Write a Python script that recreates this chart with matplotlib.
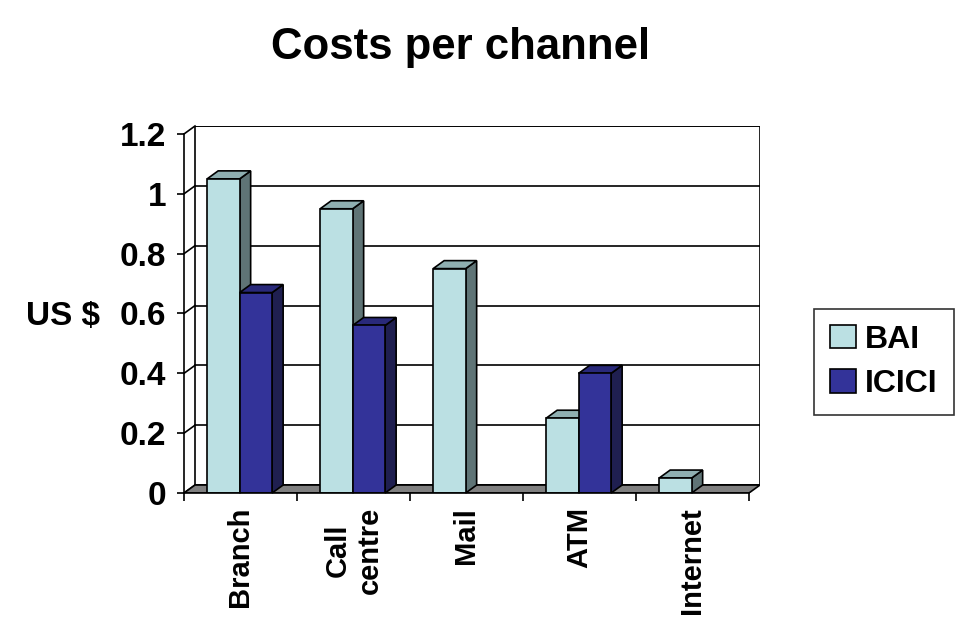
import matplotlib
matplotlib.use("Agg")
import matplotlib.pyplot as plt
from matplotlib.patches import Patch
import numpy as np

# data
categories = ['Branch', 'Call\ncentre', 'Mail', 'ATM', 'Internet']
bai = [1.05, 0.95, 0.75, 0.25, 0.05]
icici = [0.67, 0.56, 0.0, 0.40, 0.0]
series_names = ['BAI', 'ICICI']
y_ticks = [0, 0.2, 0.4, 0.6, 0.8, 1.0, 1.2]
y_tick_labels = ['0', '0.2', '0.4', '0.6', '0.8', '1', '1.2']

plt.rcParams['font.family'] = ['Liberation Sans', 'DejaVu Sans']
plt.rcParams['font.weight'] = 'bold'

# colours: front, top, side
col_bai = ('#BBE0E3', '#8FAFB1', '#5F7476')
col_icici = ('#333399', '#29297A', '#1F1F50')

fig = plt.figure(figsize=(9.59, 6.17), dpi=100)
ax = fig.add_axes([184 / 959, 124 / 617, 576 / 959, 367 / 617])

n = len(categories)
ymax = 1.2
dx = 11 / 113.0   # depth offset, category units
dy = 8 / 300.0    # depth offset, value units
ax.set_xlim(0, n + dx)
ax.set_ylim(0, ymax + dy)
ax.patch.set_visible(False)

lw = 1.2

# back wall
ax.fill([dx, n + dx, n + dx, dx], [dy, dy, ymax + dy, ymax + dy],
        facecolor='white', edgecolor='black', lw=lw, zorder=0.5)
# gridlines on back wall and side wall
for t in y_ticks:
    ax.plot([dx, n + dx], [t + dy, t + dy], color='black', lw=lw, zorder=0.8)
    ax.plot([0, dx], [t, t + dy], color='black', lw=lw, zorder=0.8, clip_on=False)
# floor
ax.fill([0, n, n + dx, dx], [0, 0, dy, dy],
        facecolor='#808080', edgecolor='black', lw=lw, zorder=1)

# bars
w = 0.2875
off = 0.205
k = 0
for i in range(n):
    for j, (vals, cols) in enumerate([(bai, col_bai), (icici, col_icici)]):
        h = vals[i]
        if h <= 0:
            continue
        x0 = i + off + j * w
        z = 2 + k * 0.1
        k += 1
        # side face
        ax.fill([x0 + w, x0 + w + dx, x0 + w + dx, x0 + w],
                [0, dy, h + dy, h], facecolor=cols[2], edgecolor='black',
                lw=lw, zorder=z, clip_on=False)
        # top face
        ax.fill([x0, x0 + w, x0 + w + dx, x0 + dx],
                [h, h, h + dy, h + dy], facecolor=cols[1], edgecolor='black',
                lw=lw, zorder=z, clip_on=False)
        ax.bar(x0, h, width=w, align='edge', color=cols[0], edgecolor='black',
               lw=lw, zorder=z + 0.05)

# axes
for s in ['top', 'right']:
    ax.spines[s].set_visible(False)
ax.spines['left'].set_bounds(0, ymax)
ax.spines['bottom'].set_bounds(0, n)
ax.spines['left'].set_linewidth(lw)
ax.spines['bottom'].set_linewidth(lw)
ax.spines['bottom'].set_zorder(3)

ax.set_yticks(y_ticks)
ax.set_yticklabels(y_tick_labels, fontsize=24, fontweight='bold')
ax.tick_params(axis='y', length=5, width=lw, pad=8)

ax.set_xticks(np.arange(n) + 0.5)
ax.set_xticklabels(categories, rotation=90, fontsize=21, fontweight='bold',
                   va='top', ha='center', multialignment='center')
ax.set_xticks(np.arange(n + 1), minor=True)
ax.tick_params(axis='x', which='major', length=0, pad=10)
ax.tick_params(axis='x', which='minor', length=6, width=lw, direction='out')

ax.set_ylabel('US $', rotation=0, fontsize=24, fontweight='bold',
              ha='right', va='center')
ax.yaxis.set_label_coords(-0.146, 0.48)

fig.text(0.48, 1 - 48 / 617, 'Costs per channel', ha='center', va='center',
         fontsize=31.5, fontweight='bold')

handles = [Patch(facecolor=col_bai[0], edgecolor='black', lw=lw),
           Patch(facecolor=col_icici[0], edgecolor='black', lw=lw)]
leg = fig.legend(handles, series_names, loc='center',
                 bbox_to_anchor=(884 / 959, 1 - 362 / 617),
                 prop={'size': 23, 'weight': 'bold'}, frameon=True,
                 fancybox=False, edgecolor='black', handlelength=0.8,
                 handleheight=0.75, handletextpad=0.3, labelspacing=0.45,
                 borderpad=0.5, borderaxespad=0)
leg.get_frame().set_linewidth(lw)

fig.savefig('out.png', dpi=100)
